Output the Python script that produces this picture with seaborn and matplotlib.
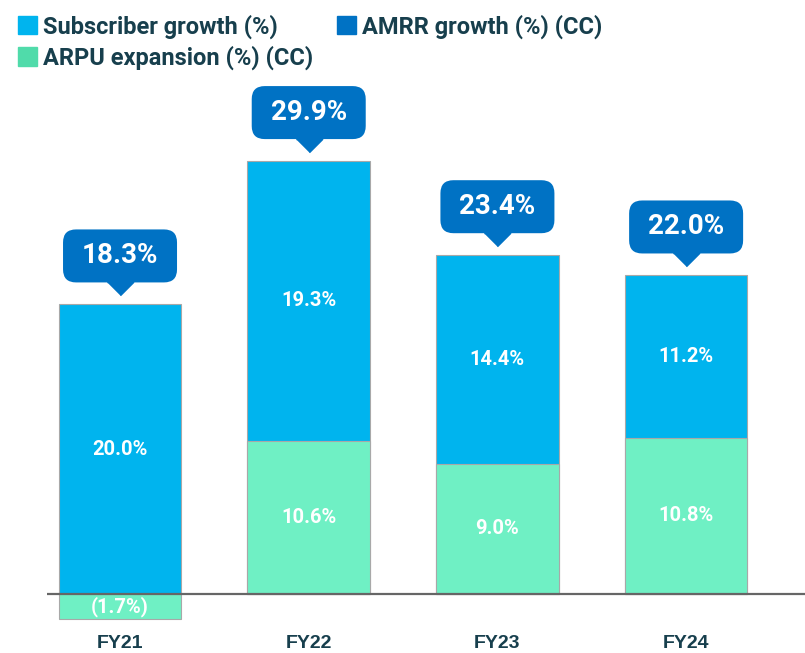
import numpy as np
import pandas as pd
import matplotlib
matplotlib.use("Agg")
import matplotlib.pyplot as plt
import matplotlib.transforms as mtransforms
from matplotlib.patches import Patch, FancyBboxPatch
import seaborn as sns

# Data
years = ["FY21", "FY22", "FY23", "FY24"]
subscriber = [20.0, 19.3, 14.4, 11.2]
arpu = [-1.7, 10.6, 9.0, 10.8]
amrr = [18.3, 29.9, 23.4, 22.0]

# Colours
c_sub = "#00b4ee"
c_arpu = "#6ff0c4"
c_arpu_leg = "#50dbaa"
c_amrr = "#0072c4"
c_text = "#173f4d"

sns.set_theme(style="white")
plt.rcParams["font.family"] = ["Roboto", "DejaVu Sans"]

df = pd.DataFrame({"year": years, "sub": subscriber, "arpu": arpu, "amrr": amrr})
# top of the blue segment: subscriber sits on the positive part of ARPU
df["top"] = df["arpu"].clip(lower=0) + df["sub"]

fig = plt.figure(figsize=(8.05, 6.53), dpi=100)
ax = fig.add_axes([47 / 805, 28 / 653, 758 / 805, 545 / 653])

sns.barplot(data=df, x="year", y="top", color=c_sub, saturation=1, width=0.65,
            edgecolor="#a8a8a8", linewidth=0.8, ax=ax)
sns.barplot(data=df, x="year", y="arpu", color=c_arpu, saturation=1, width=0.65,
            edgecolor="#a8a8a8", linewidth=0.8, ax=ax)

ax.axhline(0, color="#666666", lw=1.6, zorder=5)
ax.set_xlim(-0.387, 3.63)
ax.set_ylim(-2.14, 35.5)
sns.despine(ax=ax, left=True, bottom=True)
ax.set_yticks([])
ax.set_xlabel("")
ax.set_ylabel("")
ax.tick_params(axis="x", length=0, pad=7)
for lab in ax.get_xticklabels():
    lab.set_fontfamily("Liberation Sans")
    lab.set_fontweight("bold")
    lab.set_fontsize(14)
    lab.set_color(c_text)

def fmt(v):
    return f"({abs(v):.1f}%)" if v < 0 else f"{v:.1f}%"

# segment labels
for i, row in df.iterrows():
    base = max(row["arpu"], 0)
    ax.text(i, base + row["sub"] / 2, fmt(row["sub"]), ha="center", va="center",
            color="white", fontsize=14.5, fontweight="bold")
    ax.text(i, row["arpu"] / 2, fmt(row["arpu"]), ha="center", va="center",
            color="white", fontsize=14.5, fontweight="bold")

# AMRR callouts (box size in px converted to data units)
px_x = 4.017 / 758   # data x per pixel
px_y = 37.64 / 545   # data y per pixel
box_w, box_h, gap = 114, 53, 22
tri = [(-1, 0), (1, 0), (0, -1)]
for i, row in df.iterrows():
    tr_tip = mtransforms.offset_copy(ax.transData, fig=fig, x=0, y=gap, units="dots")
    ax.plot(i, row["top"], marker=tri, markersize=19, color=c_amrr,
            transform=tr_tip, clip_on=False, zorder=6)
    y0 = row["top"] + gap * px_y
    box = FancyBboxPatch((i - box_w / 2 * px_x, y0), box_w * px_x, box_h * px_y,
                         boxstyle=f"round,pad=0,rounding_size={13 * px_x}",
                         mutation_aspect=px_y / px_x, fc=c_amrr, ec="none",
                         clip_on=False, zorder=6)
    ax.add_patch(box)
    ax.text(i, y0 + box_h / 2 * px_y, fmt(row["amrr"]), ha="center", va="center",
            color="white", fontsize=20, fontweight="bold", zorder=7)

handles = [Patch(color=c_sub, label="Subscriber growth (%)"),
           Patch(color=c_arpu_leg, label="ARPU expansion (%) (CC)"),
           Patch(color=c_amrr, label="AMRR growth (%) (CC)")]
leg = fig.legend(handles=handles, loc="upper left", bbox_to_anchor=(0.005, 1.0),
                 ncol=2, frameon=False, handlelength=0.8, handleheight=0.8,
                 handletextpad=0.25, columnspacing=1.0, labelspacing=0.3,
                 borderaxespad=0.2, prop={"family": "Roboto", "weight": "bold", "size": 17})
for t in leg.get_texts():
    t.set_color(c_text)

fig.savefig("out.png", dpi=100)
